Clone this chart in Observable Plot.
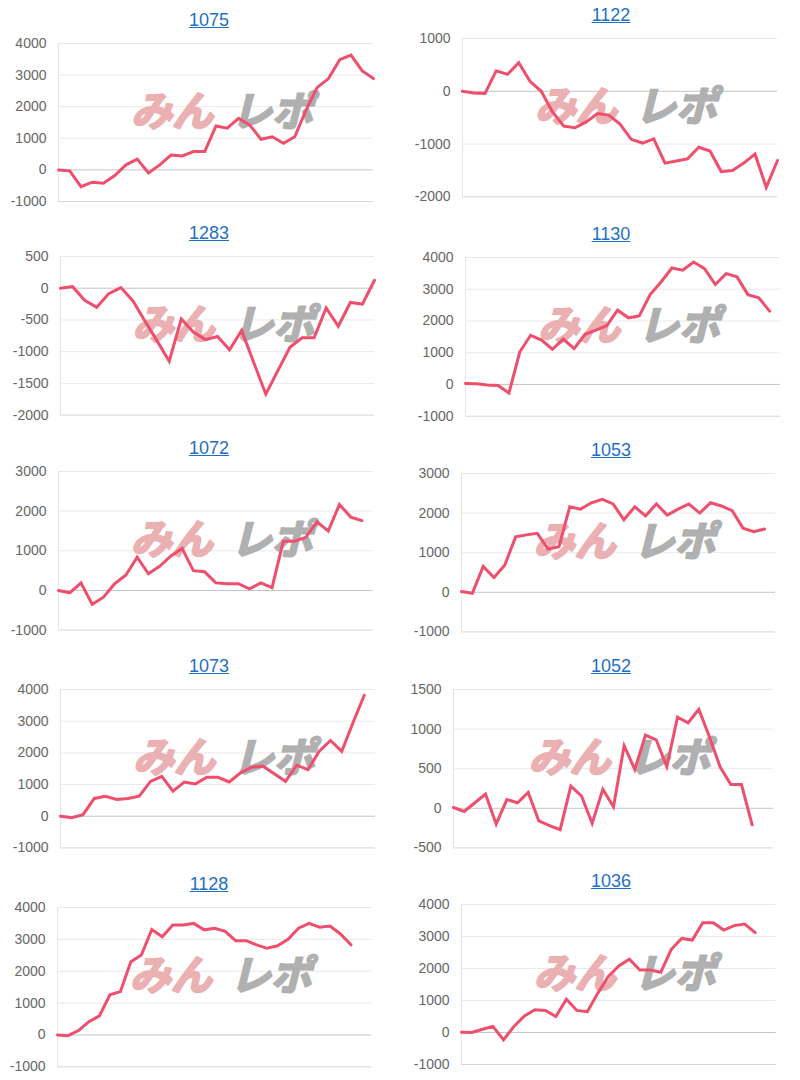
<!DOCTYPE html>
<html>
<head>
<meta charset="utf-8">
<script src="https://cdn.jsdelivr.net/npm/d3@7"></script>
<script src="https://cdn.jsdelivr.net/npm/@observablehq/plot@0.6"></script>
<style>
  html, body { margin: 0; padding: 0; background: #fff; }
  #root { position: relative; width: 800px; height: 1080px; overflow: hidden; background: #fff;
          font-family: "Liberation Sans", Arial, Helvetica, sans-serif; }
  .title { position: absolute; transform: translate(-50%, -50%); font-size: 18px; color: #1f6fc5;
           text-decoration: underline; white-space: nowrap; line-height: 1; }
  .panel { position: absolute; }
</style>
</head>
<body>
<div id="root"></div>
<script>
// ---- data ----
const titles = ["1075", "1122", "1283", "1130", "1072", "1053", "1073", "1052", "1128", "1036"];

const s1075 = [0, -30, -530, -390, -420, -180, 160, 340, -100, 160, 470, 440, 580, 580, 1390, 1320, 1630, 1420, 970, 1050, 840, 1050, 1890, 2610, 2890, 3490, 3630, 3130, 2890];
const s1122 = [0, -30, -40, 390, 320, 540, 190, 0, -390, -660, -690, -580, -420, -450, -620, -910, -980, -900, -1360, -1320, -1280, -1060, -1130, -1520, -1500, -1360, -1190, -1820, -1310];
const s1283 = [0, 25, -190, -300, -85, 10, -200, -520, -830, -1150, -485, -690, -810, -760, -970, -665, -1170, -1670, -1300, -930, -780, -780, -310, -600, -225, -250, 125];
const s1130 = [30, 20, -20, -30, -270, 1030, 1550, 1400, 1110, 1430, 1130, 1580, 1710, 1850, 2340, 2100, 2160, 2830, 3230, 3670, 3600, 3860, 3650, 3150, 3490, 3390, 2830, 2730, 2310];
const s1072 = [0, -60, 190, -350, -170, 170, 390, 840, 420, 610, 870, 1060, 500, 470, 190, 170, 170, 40, 190, 70, 1240, 1240, 1340, 1730, 1500, 2170, 1850, 1760];
const s1053 = [20, -25, 650, 370, 690, 1400, 1450, 1490, 1090, 1150, 2160, 2100, 2260, 2350, 2230, 1830, 2160, 1930, 2230, 1950, 2100, 2230, 2000, 2260, 2180, 2060, 1620, 1530, 1600];
const s1073 = [0, -50, 50, 560, 630, 530, 560, 630, 1100, 1260, 790, 1080, 1020, 1230, 1230, 1080, 1370, 1550, 1580, 1340, 1100, 1610, 1470, 2050, 2390, 2050, 2950, 3820];
const s1052 = [10, -40, 70, 180, -200, 110, 70, 200, -160, -220, -270, 280, 155, -190, 240, 20, 790, 490, 925, 865, 525, 1150, 1080, 1250, 900, 520, 300, 300, -210];
const s1128 = [0, -20, 140, 420, 600, 1260, 1360, 2300, 2510, 3310, 3080, 3450, 3450, 3500, 3300, 3350, 3250, 2960, 2960, 2830, 2720, 2800, 3000, 3350, 3500, 3380, 3420, 3170, 2830];
const s1036 = [10, 0, 100, 190, -230, 190, 520, 710, 690, 500, 1040, 690, 650, 1230, 1750, 2080, 2290, 1950, 1950, 1880, 2600, 2940, 2890, 3430, 3430, 3200, 3340, 3390, 3120];

const seriesList = [s1075, s1122, s1283, s1130, s1072, s1053, s1073, s1052, s1128, s1036];

// number of x-axis category slots (labels) per chart
const slotCounts = [29, 29, 27, 30, 29, 30, 29, 31, 31, 31];

// y tick labels per chart
const ticks1000a = [-1000, 0, 1000, 2000, 3000, 4000];
const ticks1122 = [-2000, -1000, 0, 1000];
const ticks1283 = [-2000, -1500, -1000, -500, 0, 500];
const ticks1000b = [-1000, 0, 1000, 2000, 3000];
const ticks1052 = [-500, 0, 500, 1000, 1500];
const tickList = [ticks1000a, ticks1122, ticks1283, ticks1000a, ticks1000b, ticks1000b, ticks1000a, ticks1052, ticks1000a, ticks1000a];

const wmLeft = "みん";
const wmRight = "レポ";

// ---- layout (plot frame boxes: left, top, right, bottom) ----
const boxes = [
  [58, 43, 373, 201], [462, 38.3, 777, 196.7],
  [60, 255.7, 374, 414.3], [465, 257.3, 780, 416],
  [58.3, 470.7, 373, 629.3], [461, 473.3, 775, 631.7],
  [60, 689.3, 375, 847.7], [452.7, 689.3, 772.7, 847.7],
  [57.3, 907.3, 371.7, 1066.7], [461, 904.3, 775.7, 1064.3]
];
const titleX = [209, 611];

const root = document.getElementById("root");
const ML = 70, MR = 12, MT = 8, MB = 8;
const wmFont = {fontSize: 41, fontWeight: "bold", fontStyle: "italic", fontFamily: "'Noto Sans CJK JP', sans-serif", strokeWidth: 2.2};

seriesList.forEach((vals, k) => {
  const [l, t, r, b] = boxes[k];
  const w = r - l, h = b - t;
  const ticks = tickList[k];
  const data = vals.map((v, i) => ({i, v}));

  const title = document.createElement("div");
  title.className = "title";
  title.textContent = titles[k];
  title.style.left = titleX[k % 2] + "px";
  title.style.top = (t - 23) + "px";
  root.appendChild(title);

  const chart = Plot.plot({
    width: w + ML + MR,
    height: h + MT + MB,
    marginLeft: ML, marginRight: MR, marginTop: MT, marginBottom: MB,
    style: {background: "transparent", fontFamily: "'Liberation Sans', Arial, Helvetica, sans-serif", fontSize: "14px", color: "#666", overflow: "visible"},
    x: {domain: [0, slotCounts[k] - 1], axis: null},
    y: {domain: [ticks[0], ticks[ticks.length - 1]], ticks: ticks, tickSize: 0, tickPadding: 12,
        tickFormat: d => String(d), label: null},
    marks: [
      Plot.ruleY(ticks.filter((d, j) => d !== 0 && j !== 0), {stroke: "#e9e9e9", strokeWidth: 1}),
      Plot.ruleY([ticks[0]], {stroke: "#d6d6d6", strokeWidth: 1}),
      Plot.ruleY([0], {stroke: "#c4c4c4", strokeWidth: 1}),
      Plot.ruleX([0], {stroke: "#e6e6e6", strokeWidth: 1}),
      Plot.text([wmLeft], {frameAnchor: "middle", dx: -44, dy: -10, text: d => d, fill: "#ebb0b2", stroke: "#ebb0b2", ...wmFont}),
      Plot.text([wmRight], {frameAnchor: "middle", dx: 56, dy: -10, text: d => d, fill: "#b0b0b0", stroke: "#b0b0b0", ...wmFont}),
      Plot.line(data, {x: "i", y: "v", stroke: "#ef4f6c", strokeWidth: 3, strokeLinejoin: "miter", strokeMiterlimit: 4})
    ]
  });
  chart.classList.add("panel");
  chart.style.left = (l - ML) + "px";
  chart.style.top = (t - MT) + "px";
  root.appendChild(chart);
});
</script>
</body>
</html>
